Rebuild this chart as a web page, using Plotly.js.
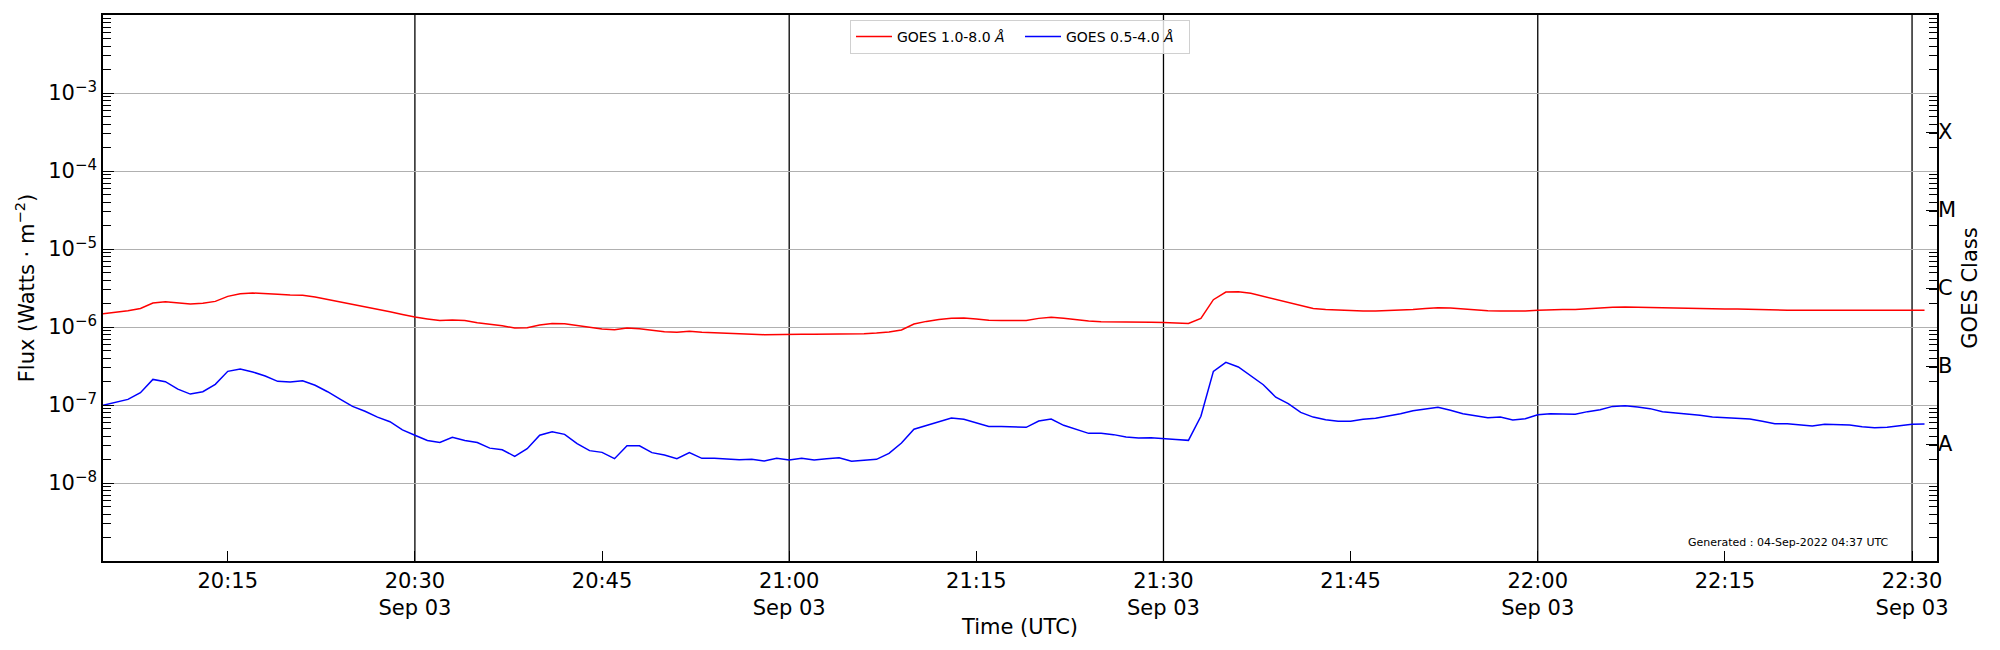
<!DOCTYPE html>
<html>
<head>
<meta charset="utf-8">
<script src="https://cdn.plot.ly/plotly-3.0.1.min.js"></script>
<style>
  body { margin: 0; background: #fff; }
  #goesPlot { width: 2000px; height: 650px; }
</style>
</head>
<body>
<div id="goesPlot"></div>
<script>
// GOES X-ray flux, 1-minute averages starting 2022-09-03 20:05 UTC
const startTime = "2022-09-03T20:05:00";

const fluxLong = [
  1.48e-6, 1.54e-6, 1.62e-6, 1.73e-6, 2.03e-6, 2.11e-6, 2.03e-6, 1.97e-6, 2.01e-6, 2.13e-6,
  2.47e-6, 2.67e-6, 2.73e-6, 2.70e-6, 2.62e-6, 2.57e-6, 2.55e-6, 2.42e-6, 2.26e-6, 2.09e-6,
  1.95e-6, 1.82e-6, 1.70e-6, 1.57e-6, 1.45e-6, 1.34e-6, 1.27e-6, 1.21e-6, 1.23e-6, 1.21e-6,
  1.13e-6, 1.09e-6, 1.04e-6, 0.97e-6, 0.98e-6, 1.06e-6, 1.11e-6, 1.10e-6, 1.04e-6, 0.98e-6,
  0.94e-6, 0.925e-6, 0.97e-6, 0.95e-6, 0.906e-6, 0.871e-6, 0.855e-6, 0.88e-6, 0.855e-6, 0.838e-6,
  0.83e-6, 0.822e-6, 0.805e-6, 0.798e-6, 0.805e-6, 0.805e-6, 0.805e-6, 0.805e-6, 0.805e-6, 0.813e-6,
  0.813e-6, 0.822e-6, 0.838e-6, 0.863e-6, 0.916e-6, 1.09e-6, 1.18e-6, 1.25e-6, 1.29e-6, 1.30e-6,
  1.27e-6, 1.22e-6, 1.21e-6, 1.21e-6, 1.21e-6, 1.29e-6, 1.33e-6, 1.29e-6, 1.23e-6, 1.19e-6,
  1.17e-6, 1.17e-6, 1.16e-6, 1.15e-6, 1.15e-6, 1.14e-6, 1.13e-6, 1.11e-6, 1.29e-6, 2.24e-6,
  2.81e-6, 2.84e-6, 2.70e-6, 2.47e-6, 2.24e-6, 2.03e-6, 1.88e-6, 1.73e-6, 1.68e-6, 1.65e-6,
  1.62e-6, 1.60e-6, 1.60e-6, 1.62e-6, 1.65e-6, 1.68e-6, 1.73e-6, 1.77e-6, 1.75e-6, 1.70e-6,
  1.65e-6, 1.62e-6, 1.60e-6, 1.59e-6, 1.60e-6, 1.64e-6, 1.67e-6, 1.68e-6, 1.68e-6, 1.72e-6,
  1.75e-6, 1.79e-6, 1.80e-6, 1.80e-6, 1.80e-6, 1.77e-6, 1.75e-6, 1.73e-6, 1.72e-6, 1.72e-6,
  1.70e-6, 1.70e-6, 1.68e-6, 1.67e-6, 1.65e-6, 1.64e-6, 1.64e-6, 1.64e-6, 1.64e-6, 1.64e-6,
  1.65e-6, 1.64e-6, 1.64e-6, 1.64e-6, 1.65e-6, 1.65e-6, 1.64e-6
];

const fluxShort = [
  0.99e-7, 1.08e-7, 1.18e-7, 1.44e-7, 2.13e-7, 1.99e-7, 1.60e-7, 1.38e-7, 1.48e-7, 1.84e-7,
  2.70e-7, 2.90e-7, 2.65e-7, 2.35e-7, 2.01e-7, 1.97e-7, 2.05e-7, 1.79e-7, 1.48e-7, 1.19e-7,
  0.96e-7, 0.83e-7, 0.70e-7, 0.61e-7, 0.48e-7, 0.41e-7, 0.35e-7, 0.33e-7, 0.385e-7, 0.35e-7,
  0.33e-7, 0.28e-7, 0.267e-7, 0.22e-7, 0.275e-7, 0.41e-7, 0.455e-7, 0.42e-7, 0.32e-7, 0.26e-7,
  0.247e-7, 0.205e-7, 0.30e-7, 0.30e-7, 0.245e-7, 0.229e-7, 0.205e-7, 0.245e-7, 0.207e-7, 0.207e-7,
  0.201e-7, 0.199e-7, 0.201e-7, 0.191e-7, 0.207e-7, 0.197e-7, 0.207e-7, 0.197e-7, 0.205e-7, 0.211e-7,
  0.19e-7, 0.195e-7, 0.201e-7, 0.24e-7, 0.326e-7, 0.49e-7, 0.543e-7, 0.61e-7, 0.68e-7, 0.655e-7,
  0.587e-7, 0.532e-7, 0.532e-7, 0.527e-7, 0.517e-7, 0.623e-7, 0.662e-7, 0.549e-7, 0.49e-7, 0.433e-7,
  0.433e-7, 0.417e-7, 0.389e-7, 0.377e-7, 0.38e-7, 0.366e-7, 0.36e-7, 0.352e-7, 0.716e-7, 2.70e-7,
  3.52e-7, 3.07e-7, 2.38e-7, 1.82e-7, 1.26e-7, 1.04e-7, 0.805e-7, 0.70e-7, 0.649e-7, 0.618e-7,
  0.618e-7, 0.655e-7, 0.675e-7, 0.716e-7, 0.774e-7, 0.846e-7, 0.889e-7, 0.933e-7, 0.855e-7, 0.774e-7,
  0.73e-7, 0.688e-7, 0.70e-7, 0.642e-7, 0.668e-7, 0.751e-7, 0.774e-7, 0.774e-7, 0.76e-7, 0.822e-7,
  0.871e-7, 0.96e-7, 0.98e-7, 0.943e-7, 0.898e-7, 0.822e-7, 0.797e-7, 0.76e-7, 0.737e-7, 0.70e-7,
  0.688e-7, 0.662e-7, 0.662e-7, 0.618e-7, 0.576e-7, 0.576e-7, 0.554e-7, 0.538e-7, 0.565e-7, 0.565e-7,
  0.554e-7, 0.527e-7, 0.512e-7, 0.52e-7, 0.543e-7, 0.565e-7, 0.57e-7
];

const tickTimes = [
  "2022-09-03 20:15", "2022-09-03 20:30", "2022-09-03 20:45", "2022-09-03 21:00",
  "2022-09-03 21:15", "2022-09-03 21:30", "2022-09-03 21:45", "2022-09-03 22:00",
  "2022-09-03 22:15", "2022-09-03 22:30"
];
const tickLabels = [
  "20:15", "20:30<br>Sep 03", "20:45", "21:00<br>Sep 03", "21:15", "21:30<br>Sep 03",
  "21:45", "22:00<br>Sep 03", "22:15", "22:30<br>Sep 03"
];
const halfHourLines = [
  "2022-09-03 20:30", "2022-09-03 21:00", "2022-09-03 21:30", "2022-09-03 22:00", "2022-09-03 22:30"
];

const fluxTicks = [1e-8, 1e-7, 1e-6, 1e-5, 1e-4, 1e-3];
const fluxExponents = ["−8", "−7", "−6", "−5", "−4", "−3"];
const classTicks = [3.162e-8, 3.162e-7, 3.162e-6, 3.162e-5, 3.162e-4];
const classLabels = ["A", "B", "C", "M", "X"];

const fluxLabels = fluxExponents.map(e =>
  "10<sup><span style=\"font-size:15px\">" + e + "</span></sup>");

// one timestamp per reading
const t0 = new Date(startTime + "Z").getTime();
const times = fluxLong.map((_, i) =>
  new Date(t0 + i * 60000).toISOString().slice(0, 19).replace("T", " "));

// log minor ticks 2..9 in every decade
const minorTicks = [];
for (let d = -9; d < -2; d++) {
  for (let m = 2; m <= 9; m++) minorTicks.push(m * Math.pow(10, d));
}

const font = "DejaVu Sans, Liberation Sans, sans-serif";

const traces = [
  {
    x: times, y: fluxLong, type: "scatter", mode: "lines",
    name: "GOES 1.0-8.0 <i>Å</i>",
    line: {color: "#ff0000", width: 1.5}
  },
  {
    x: times, y: fluxShort, type: "scatter", mode: "lines",
    name: "GOES 0.5-4.0 <i>Å</i>",
    line: {color: "#0000ff", width: 1.5}
  },
  // empty trace so the GOES class axis gets drawn
  {
    x: [], y: [], type: "scatter", mode: "lines", yaxis: "y2",
    showlegend: false, hoverinfo: "skip"
  }
];

const layout = {
  width: 2000,
  height: 650,
  margin: {l: 103, r: 63, t: 15, b: 89},
  paper_bgcolor: "#ffffff",
  plot_bgcolor: "#ffffff",
  font: {family: font, color: "#000000", size: 21},
  showlegend: true,
  legend: {
    orientation: "h",
    x: 0.5, xanchor: "center",
    y: 0.991, yanchor: "top",
    bgcolor: "rgba(255,255,255,0.8)",
    bordercolor: "#d0d0d0",
    borderwidth: 1,
    font: {family: font, size: 14},
    itemwidth: 36,
    entrywidth: 118
  },
  xaxis: {
    type: "date",
    range: ["2022-09-03 20:05", "2022-09-03 22:32"],
    tickmode: "array",
    tickvals: tickTimes,
    ticktext: tickLabels,
    ticks: "inside",
    ticklen: 10,
    tickwidth: 1,
    tickcolor: "#000000",
    tickfont: {family: font, size: 21},
    showgrid: false,
    zeroline: false,
    showline: true,
    mirror: true,
    linecolor: "#000000",
    linewidth: 1.5,
    title: {text: "Time (UTC)", font: {family: font, size: 21}, standoff: 0}
  },
  yaxis: {
    type: "log",
    range: [-9, -2],
    tickmode: "array",
    tickvals: fluxTicks,
    ticktext: fluxLabels,
    ticks: "inside",
    ticklen: 11,
    tickcolor: "#000000",
    tickfont: {family: font, size: 21},
    minor: {tickmode: "array", tickvals: minorTicks, ticks: "inside", ticklen: 8,
            tickcolor: "#000000", showgrid: false},
    showgrid: true,
    gridcolor: "#b0b0b0",
    gridwidth: 1,
    zeroline: false,
    showline: true,
    mirror: true,
    linecolor: "#000000",
    linewidth: 1.5,
    title: {text: "Flux (Watts · m<sup>−2</sup>)", font: {family: font, size: 21}, standoff: 8}
  },
  yaxis2: {
    type: "log",
    range: [-9, -2],
    autorange: false,
    overlaying: "y",
    side: "right",
    tickmode: "array",
    tickvals: classTicks,
    ticktext: classLabels,
    ticks: "inside",
    ticklen: 11,
    tickcolor: "#000000",
    tickfont: {family: font, size: 21},
    minor: {tickmode: "array", tickvals: minorTicks, ticks: "inside", ticklen: 8,
            tickcolor: "#000000", showgrid: false},
    showgrid: false,
    zeroline: false,
    showline: false,
    title: {text: "GOES Class", font: {family: font, size: 21}, standoff: 7}
  },
  shapes: halfHourLines.map(t => ({
    type: "line", xref: "x", yref: "paper",
    x0: t, x1: t, y0: 0, y1: 1,
    line: {color: "#000000", width: 1.3},
    layer: "below"
  })),
  annotations: [
    {
      text: "Generated : 04-Sep-2022 04:37 UTC",
      xref: "paper", yref: "paper",
      x: 0.975, xanchor: "right",
      y: 0.033, yanchor: "middle",
      showarrow: false,
      font: {family: font, size: 11, color: "#000000"}
    }
  ]
};

Plotly.newPlot("goesPlot", traces, layout, {responsive: false, displayModeBar: false});
</script>
</body>
</html>
